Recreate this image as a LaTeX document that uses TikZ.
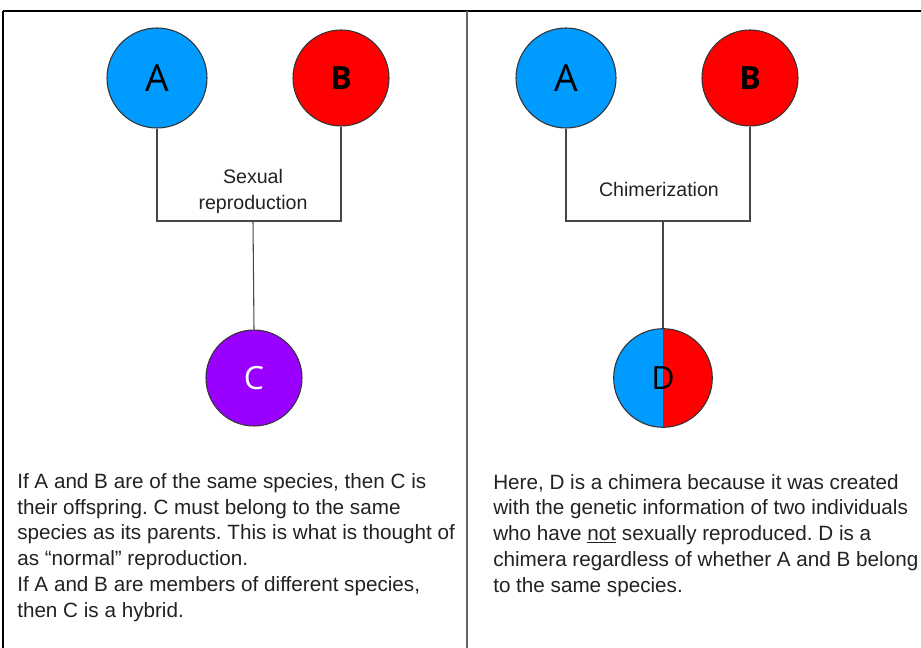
\documentclass[tikz,border=0pt]{standalone}
\usepackage{fontspec}
\setmainfont{Liberation Sans}
\newfontfamily\letterfont{Open Sans}
\frenchspacing
\definecolor{blueA}{RGB}{0,155,255}
\definecolor{redB}{RGB}{255,0,0}
\definecolor{purpleC}{RGB}{153,0,255}
\definecolor{linegray}{RGB}{70,70,70}
\definecolor{textgray}{RGB}{34,34,34}
\tikzset{
  parent/.style={circle, draw=black!80, line width=0.8pt, minimum size=72pt, inner sep=0pt,
    font=\letterfont\fontsize{24}{24}\selectfont},
  bigletter/.style={minimum size=75pt, font=\letterfont\fontsize{28}{28}\selectfont},
  link/.style={draw=linegray, line width=0.8pt},
  caption/.style={align=center, inner sep=0pt, text=textgray,
    font=\fontsize{14.7}{19.5}\selectfont},
  note/.style={anchor=base west, align=left, inner sep=0pt, text=textgray,
    font=\fontsize{15.5}{19.3}\selectfont}
}
\begin{document}
\begin{tikzpicture}[x=0.75pt,y=-0.75pt]
  \useasboundingbox (0,0) rectangle (921,648);
  % frame
  \draw[line width=1.5pt] (3,11) -- (921,11);
  \draw[line width=1.5pt] (3,11) -- (3,648);
  \draw[black!60, line width=1.2pt] (467,11) -- (467,648);

  % left panel
  \node[parent, bigletter, fill=blueA] (A1) at (157,78) {A};
  \node[parent, fill=redB, font=\letterfont\bfseries\fontsize{24}{24}\selectfont] (B1) at (341,78) {B};
  \node[parent, fill=purpleC, text=white] (C1) at (254,378) {C};
  \coordinate (hub1) at (253,221);
  \draw[link] (A1.south) |- (hub1) -| (B1.south);
  \draw[link] (hub1) -- (C1.north);
  \node[caption] (sex) at (253,191) {Sexual\\reproduction};
  \node[note] (noteL) at (17,617) {If A and B are of the same species, then C is\\
    their offspring. C must belong to the same\\
    species as its parents. This is what is thought of\\
    as “normal” reproduction.\\
    If A and B are members of different species,\\
    then C is a hybrid.};

  % right panel
  \node[parent, bigletter, fill=blueA] (A2) at (566,78) {A};
  \node[parent, fill=redB, font=\letterfont\bfseries\fontsize{24}{24}\selectfont] (B2) at (750,78) {B};
  \node[parent, minimum size=74pt,
    path picture={
      \fill[blueA] (path picture bounding box.south west) rectangle (path picture bounding box.north);
      \fill[redB] (path picture bounding box.south) rectangle (path picture bounding box.north east);
    }] (D) at (663,378) {D};
  \coordinate (hub2) at (663,221);
  \draw[link] (A2.south) |- (hub2) -| (B2.south);
  \draw[link] (hub2) -- (D.north);
  \node[caption] (chim) at (659,189) {Chimerization};
  \node[note] (noteR) at (493,592) {Here, D is a chimera because it was created\\
    with the genetic information of two individuals\\
    who have \underline{not} sexually reproduced. D is a\\
    chimera regardless of whether A and B belong\\
    to the same species.};
\end{tikzpicture}
\end{document}
